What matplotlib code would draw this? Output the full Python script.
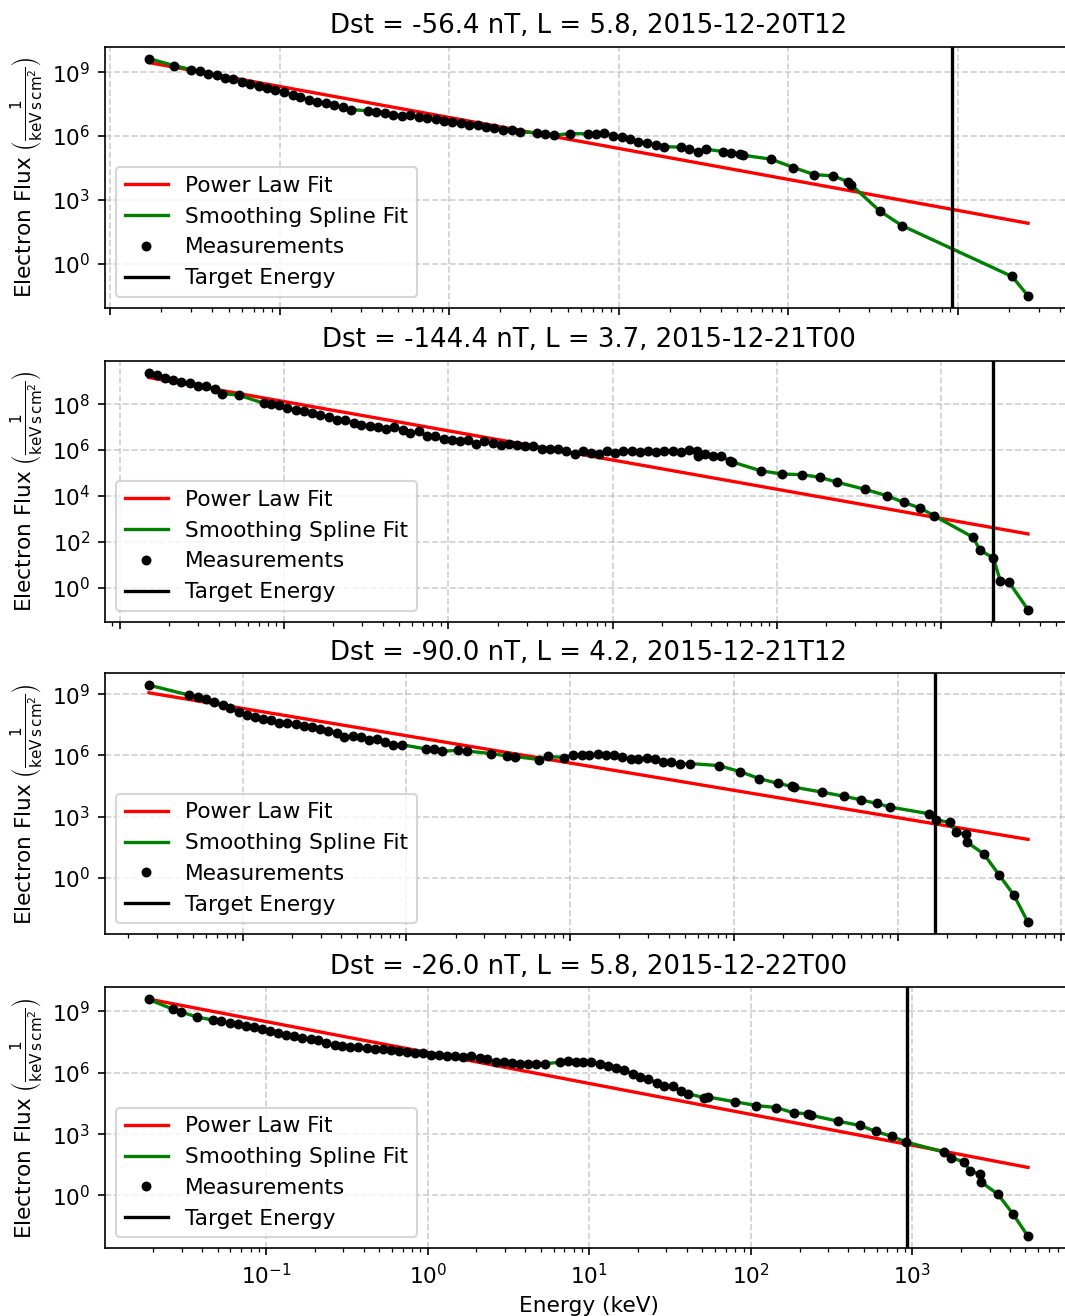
import matplotlib
matplotlib.use("Agg")
import matplotlib.pyplot as plt

plt.rcParams["font.size"] = 10.4

# ── Panel titles ─────────────────────────────────────────────────────────────
titles = [
    "Dst = -56.4 nT, L = 5.8, 2015-12-20T12",
    "Dst = -144.4 nT, L = 3.7, 2015-12-21T00",
    "Dst = -90.0 nT, L = 4.2, 2015-12-21T12",
    "Dst = -26.0 nT, L = 5.8, 2015-12-22T00",
]

# ── Panel 1 ──────────────────────────────────────────────────────────────────
energy_1 = [0.0169, 0.0237, 0.0300, 0.0337, 0.0377, 0.0425, 0.0476, 0.0532, 0.0595, 0.0670,
            0.0749, 0.0841, 0.0941, 0.106, 0.119, 0.132, 0.148, 0.166, 0.187, 0.210,
            0.235, 0.264, 0.332, 0.371, 0.418, 0.467, 0.525, 0.587, 0.659, 0.738,
            0.830, 0.929, 1.04, 1.17, 1.31, 1.47, 1.65, 1.84, 2.07, 2.33,
            2.60, 3.27, 3.68, 4.14, 5.18, 6.53, 7.28, 8.16, 9.22, 10.4,
            11.6, 13.0, 14.6, 16.5, 18.4, 23.2, 26.0, 29.1, 32.7, 41.1,
            46.0, 51.5, 53.9, 79.3, 107, 142, 183, 224, 235, 345,
            466, 2085, 2590]
flux_1 = [4.4e9, 2.06e9, 1.33e9, 1.11e9, 8.65e8, 7.2e8, 5.6e8, 4.7e8, 3.6e8, 2.9e8,
          2.36e8, 1.77e8, 1.48e8, 1.19e8, 8.3e7, 6.7e7, 5.2e7, 4.2e7, 3.5e7, 2.9e7,
          2.2e7, 1.76e7, 1.52e7, 1.41e7, 1.27e7, 9.9e6, 9.2e6, 9.9e6, 8.2e6, 7.1e6,
          6.2e6, 5.0e6, 4.8e6, 4.15e6, 3.46e6, 3.46e6, 2.79e6, 2.5e6, 1.94e6, 1.87e6,
          1.62e6, 1.40e6, 1.31e6, 1.09e6, 1.31e6, 1.26e6, 1.22e6, 1.40e6, 1.05e6, 9.1e5,
          7.6e5, 5.5e5, 4.75e5, 3.8e5, 3.2e5, 2.97e5, 2.48e5, 1.86e5, 2.4e5, 1.86e5,
          1.67e5, 1.50e5, 1.25e5, 8.1e4, 3.3e4, 1.54e4, 1.33e4, 7.2e3, 5.0e3, 302,
          61.7, 0.247, 0.0304]
powerlaw_1 = [2.85e9, 79.0]
target_1 = 927

# ── Panel 2 ──────────────────────────────────────────────────────────────────
energy_2 = [0.01507, 0.01683, 0.01891, 0.02115, 0.02372, 0.02661, 0.0299, 0.03375, 0.03786, 0.0421,
            0.0531, 0.0751, 0.0839, 0.0933, 0.1047, 0.1177, 0.1321, 0.1483, 0.1665, 0.187,
            0.210, 0.236, 0.265, 0.296, 0.332, 0.373, 0.419, 0.470, 0.527, 0.589,
            0.662, 0.743, 0.834, 0.937, 1.05, 1.175, 1.32, 1.47, 1.65, 1.86,
            2.09, 2.34, 2.63, 2.95, 3.30, 3.70, 4.16, 4.67, 5.24, 5.88,
            6.58, 7.38, 8.28, 9.24, 10.3, 11.6, 13.1, 14.7, 16.4, 18.4,
            20.7, 23.3, 26.0, 29.2, 32.8, 33.2, 36.6, 41.0, 46.0, 51.8,
            53.7, 79.6, 107, 143, 184, 234, 345, 467, 592, 745,
            911, 1565, 1727, 2080, 2296, 2592, 3383]
flux_2 = [2.39e9, 1.89e9, 1.40e9, 1.15e9, 9.7e8, 8.2e8, 6.5e8, 6.1e8, 4.5e8, 2.9e8,
          2.47e8, 1.11e8, 9.7e7, 9.0e7, 6.5e7, 5.5e7, 4.95e7, 4.3e7, 3.4e7, 2.8e7,
          1.94e7, 2.08e7, 1.49e7, 1.26e7, 1.14e7, 9.6e6, 7.9e6, 9.97e6, 7.6e6, 5.3e6,
          6.5e6, 4.05e6, 3.9e6, 2.9e6, 2.7e6, 2.37e6, 2.7e6, 1.81e6, 2.37e6, 1.94e6,
          1.69e6, 1.75e6, 1.69e6, 1.48e6, 1.43e6, 1.14e6, 1.06e6, 1.06e6, 9.0e5, 6.65e5,
          9.0e5, 7.6e5, 6.9e5, 9.0e5, 7.35e5, 9.3e5, 9.0e5, 8.4e5, 9.3e5, 8.4e5,
          9.3e5, 9.0e5, 8.4e5, 9.9e5, 8.7e5, 5.4e5, 6.4e5, 5.6e5, 5.3e5, 3.4e5,
          3.0e5, 1.25e5, 9.0e4, 8.4e4, 6.4e4, 3.9e4, 1.92e4, 1.02e4, 5.2e3, 2.96e3,
          1.33e3, 157, 42.5, 19.7, 1.9, 1.72, 0.107]
powerlaw_2 = [1.45e9, 219.0]
target_2 = 2080

# ── Panel 3 ──────────────────────────────────────────────────────────────────
energy_3 = [0.0268, 0.0472, 0.0533, 0.0599, 0.0673, 0.0756, 0.0840, 0.0944, 0.106, 0.119,
            0.133, 0.149, 0.168, 0.188, 0.211, 0.237, 0.266, 0.298, 0.333, 0.375,
            0.419, 0.470, 0.526, 0.590, 0.663, 0.744, 0.832, 0.935, 1.32, 1.47,
            1.65, 2.07, 2.33, 3.29, 4.13, 4.64, 6.50, 7.30, 9.16, 10.35,
            11.8, 13.1, 14.8, 16.6, 18.5, 20.8, 23.4, 26.1, 29.3, 33.1,
            36.7, 41.3, 46.7, 54.2, 80.7, 109, 143, 185, 227, 234,
            347, 469, 595, 745, 902, 1560, 1713, 2075, 2268, 2600,
            2650, 3360, 4170, 5120, 6260]
flux_3 = [2.87e9, 9.3e8, 7.7e8, 5.9e8, 4.4e8, 3.1e8, 2.06e8, 1.36e8, 9.35e7, 8.0e7,
          6.2e7, 5.3e7, 4.1e7, 3.8e7, 3.4e7, 2.9e7, 2.4e7, 2.07e7, 1.66e7, 1.32e7,
          8.1e6, 9.1e6, 8.1e6, 5.6e6, 6.2e6, 4.8e6, 3.2e6, 3.4e6, 2.09e6, 2.01e6,
          1.61e6, 1.80e6, 1.67e6, 1.24e6, 9.5e5, 8.8e5, 6.3e5, 9.1e5, 7.9e5, 1.06e6,
          1.06e6, 1.06e6, 1.19e6, 1.06e6, 1.06e6, 8.2e5, 6.5e5, 7.0e5, 7.3e5, 6.5e5,
          5.0e5, 4.8e5, 3.7e5, 4.0e5, 3.2e5, 1.62e5, 7.3e4, 4.3e4, 3.0e4, 2.76e4,
          1.57e4, 1.0e4, 6.6e3, 4.4e3, 2.9e3, 1.36e3, 692, 512, 179, 132,
          55.6, 14.4, 1.34, 0.140, 0.0062]
powerlaw_3 = [1.21e9, 75.2]
target_3 = 1698

# ── Panel 4 ──────────────────────────────────────────────────────────────────
energy_4 = [0.0188, 0.0264, 0.0296, 0.0374, 0.0471, 0.0528, 0.0594, 0.0669, 0.0748, 0.0838,
            0.0942, 0.1055, 0.118, 0.133, 0.149, 0.167, 0.188, 0.210, 0.235, 0.265,
            0.296, 0.332, 0.371, 0.418, 0.468, 0.526, 0.590, 0.660, 0.743, 0.832,
            0.935, 1.05, 1.17, 1.32, 1.48, 1.66, 1.86, 2.09, 2.34, 2.63,
            2.96, 3.31, 3.73, 4.17, 4.67, 5.28, 6.59, 7.38, 8.30, 9.10,
            10.3, 11.6, 13.0, 14.6, 16.4, 18.5, 20.6, 23.2, 26.1, 29.1,
            32.8, 36.7, 41.0, 51.4, 54.4, 80.0, 108, 143, 184, 224,
            234, 345, 472, 593, 748, 918, 1570, 1727, 2089, 2264,
            2607, 2650, 3385, 4195, 5190]
flux_4 = [3.86e9, 1.30e9, 9.6e8, 5.3e8, 3.77e8, 3.24e8, 2.79e8, 2.31e8, 1.92e8, 1.65e8,
          1.37e8, 1.13e8, 9.0e7, 7.2e7, 6.5e7, 4.97e7, 4.4e7, 3.8e7, 2.72e7, 2.17e7,
          2.01e7, 1.87e7, 1.80e7, 1.61e7, 1.49e7, 1.44e7, 1.33e7, 1.19e7, 1.10e7, 9.5e6,
          8.8e6, 7.6e6, 7.3e6, 7.0e6, 6.3e6, 6.1e6, 6.8e6, 5.2e6, 4.5e6, 3.45e6,
          3.3e6, 2.86e6, 2.75e6, 2.65e6, 2.55e6, 2.75e6, 3.3e6, 3.7e6, 3.2e6, 3.2e6,
          3.45e6, 2.75e6, 2.2e6, 1.75e6, 1.30e6, 8.9e5, 5.9e5, 4.9e5, 3.24e5, 2.31e5,
          2.15e5, 1.22e5, 9.4e4, 6.0e4, 6.5e4, 3.8e4, 2.5e4, 2.0e4, 1.10e4, 9.9e3,
          8.5e3, 4.3e3, 2.65e3, 1.35e3, 769, 406, 132, 69.5, 44.3, 15.5,
          11.0, 4.66, 1.12, 0.122, 0.00986]
powerlaw_4 = [4.0e9, 23.4]
target_4 = 931

energies = [energy_1, energy_2, energy_3, energy_4]
fluxes = [flux_1, flux_2, flux_3, flux_4]
powerlaws = [powerlaw_1, powerlaw_2, powerlaw_3, powerlaw_4]
targets = [target_1, target_2, target_3, target_4]

# ── Figure ───────────────────────────────────────────────────────────────────
W, H, DPI = 1065, 1316, 150
fig = plt.figure(figsize=(W / DPI, H / DPI), dpi=DPI)

# right spine sits just past the image edge, as in the cropped original
ax_left, ax_right = 105, 1072
ax_tops = [46.7, 360.7, 673.3, 987.3]
ax_h = 261

for i in range(4):
    top = ax_tops[i]
    ax = fig.add_axes([ax_left / W, 1 - (top + ax_h) / H,
                       (ax_right - ax_left) / W, ax_h / H])
    E, F, pl = energies[i], fluxes[i], powerlaws[i]

    ax.plot([E[0], E[-1]], pl, color="red", lw=1.6, label="Power Law Fit")
    ax.plot(E, F, color="green", lw=1.6, label="Smoothing Spline Fit")
    ax.plot(E, F, "k.", ms=7.5, label="Measurements")
    ax.axvline(targets[i], color="black", lw=1.6, label="Target Energy")

    ax.set_xscale("log")
    ax.set_yscale("log")
    ax.grid(True, linestyle="--", alpha=0.6)
    ax.set_title(titles[i], pad=6.5)
    ax.set_ylabel(r"Electron Flux $\left(\frac{1}{\mathrm{keV\,s\,cm^2}}\right)$",
                  labelpad=3)
    ax.legend(loc="lower left")
    if i < 3:
        ax.tick_params(labelbottom=False)
    else:
        ax.set_xlabel("Energy (keV)")

fig.savefig("out.png", dpi=DPI)
